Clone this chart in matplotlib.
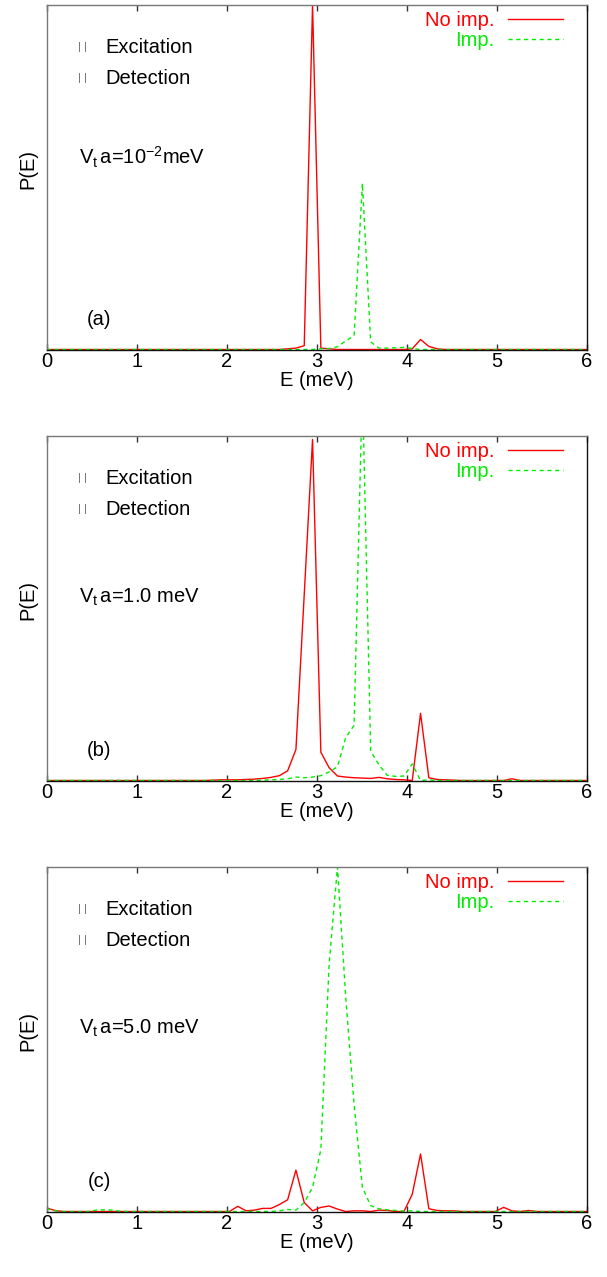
import numpy as np
import matplotlib
matplotlib.use("Agg")
import matplotlib.pyplot as plt

plt.rcParams['font.family'] = ['Liberation Sans', 'DejaVu Sans']
plt.rcParams['mathtext.fontset'] = 'custom'
plt.rcParams['mathtext.rm'] = 'Liberation Sans'
plt.rcParams['mathtext.it'] = 'Liberation Sans:italic'
plt.rcParams['mathtext.default'] = 'regular'

# energy sampling grid (meV)
E = np.linspace(0.0, 6.0, 66)

def series(pairs):
    y = np.zeros(len(E))
    for k, v in pairs.items():
        y[k] = v
    return y

# ---- panel (a): V_t a = 1e-2 meV
no_imp_a = series({29: 0.002, 30: 0.004, 31: 0.011, 32: 1.0, 33: 0.004, 34: 0.002,
                   44: 0.002, 45: 0.029, 46: 0.009, 47: 0.002})
imp_a = series({33: 0.002, 34: 0.003, 35: 0.008, 36: 0.025, 37: 0.04, 38: 0.482,
                39: 0.022, 40: 0.004, 41: 0.004, 42: 0.005, 43: 0.006, 44: 0.003})

# ---- panel (b): V_t a = 1.0 meV
no_imp_b = series({20: 0.001, 21: 0.002, 22: 0.002, 23: 0.002, 24: 0.003, 25: 0.004,
                   26: 0.006, 27: 0.009, 28: 0.014, 29: 0.028, 30: 0.09, 31: 0.54,
                   32: 0.99, 33: 0.082, 34: 0.037, 35: 0.013, 36: 0.01, 37: 0.008,
                   38: 0.007, 39: 0.006, 40: 0.009, 41: 0.005, 42: 0.003, 43: 0.002,
                   44: 0.0, 45: 0.195, 46: 0.008, 47: 0.003, 48: 0.002, 49: 0.001,
                   56: 0.005})
imp_b = series({26: 0.001, 27: 0.002, 28: 0.003, 29: 0.005, 30: 0.01, 31: 0.008,
                32: 0.01, 33: 0.014, 34: 0.025, 35: 0.04, 36: 0.125, 37: 0.16,
                38: 1.15, 39: 0.085, 40: 0.045, 41: 0.015, 42: 0.012, 43: 0.013,
                44: 0.048, 45: 0.0, 46: 0.002})

# ---- panel (c): V_t a = 5.0 meV
no_imp_c = series({0: 0.01, 1: 0.003, 23: 0.015, 24: 0.002, 25: 0.004, 26: 0.009,
                   27: 0.009, 28: 0.02, 29: 0.034, 30: 0.12, 31: 0.026, 32: 0.002,
                   33: 0.012, 34: 0.016, 35: 0.007, 37: 0.002, 38: 0.002, 40: 0.004,
                   41: 0.003, 44: 0.05, 45: 0.167, 46: 0.008, 47: 0.003, 48: 0.002,
                   49: 0.002, 55: 0.012, 56: 0.002, 58: 0.003})
imp_c = series({0: 0.008, 1: 0.002, 6: 0.004, 7: 0.005, 8: 0.004, 28: 0.002, 29: 0.006,
                30: 0.004, 31: 0.026, 32: 0.07, 33: 0.18, 34: 0.72, 35: 1.0,
                36: 0.62, 37: 0.31, 38: 0.07, 39: 0.017, 40: 0.008, 41: 0.005,
                42: 0.003, 43: 0.001, 44: 0.002})

panels = [
    (no_imp_a, imp_a, r"V$_\mathrm{t}\,$a=10$^{-2}$meV", "(a)", 0.536),
    (no_imp_b, imp_b, r"V$_\mathrm{t}\,$a=1.0 meV", "(b)", 0.515),
    (no_imp_c, imp_c, r"V$_\mathrm{t}\,$a=5.0 meV", "(c)", 0.515),
]
xticks = [0, 1, 2, 3, 4, 5, 6]

W, H = 607, 1277
fig = plt.figure(figsize=(W / 100, H / 100), dpi=100)
FS = 14.5
left_px, width_px, height_px = 46.7, 540.0, 344.5
tops_px = [5.0, 436.0, 867.0]

for (red, green, vlabel, tag, vy), top in zip(panels, tops_px):
    ax = fig.add_axes([left_px / W, 1 - (top + height_px) / H, width_px / W, height_px / H])
    ax.plot(E, red, color='#ff0000', lw=1.0, label='No imp.', clip_on=True)
    ax.plot(E, green, color='#00ee00', lw=1.0, dashes=(3, 2.6), label='Imp.', clip_on=True)
    ax.set_xlim(0, 6)
    ax.set_ylim(0, 1.0)
    ax.set_xticks(xticks)
    ax.set_xticklabels([str(t) for t in xticks], fontsize=FS)
    ax.set_yticks([])
    ax.tick_params(axis='x', direction='in', top=True, length=4, width=1, pad=2, color='#333333')
    ax.set_xlabel('E (meV)', fontsize=FS, labelpad=0)
    ax.set_ylabel('P(E)', fontsize=FS)
    ax.yaxis.set_label_coords(-0.017, 0.525)
    for s in ['left', 'top']:
        ax.spines[s].set_color('#777777')
    for s in ['right', 'bottom']:
        ax.spines[s].set_color('#111111')
    for s in ax.spines.values():
        s.set_linewidth(1.0)

    leg = ax.legend(loc='upper right', bbox_to_anchor=(0.956, 0.982), frameon=False,
                    fontsize=FS, markerfirst=False, labelcolor='linecolor',
                    handlelength=2.75, handletextpad=0.65, labelspacing=0.05,
                    borderpad=0.0, borderaxespad=0.0, alignment='right')

    for ty, txt in [(0.878, 'Excitation'), (0.788, 'Detection')]:
        ax.text(0.066, ty, '| |', transform=ax.transAxes, fontsize=8, color='#666666',
                ha='center', va='center')
        ax.text(0.108, ty, txt, transform=ax.transAxes, fontsize=FS, ha='left', va='center')
    ax.text(0.060, vy, vlabel, transform=ax.transAxes, fontsize=FS, ha='left', va='baseline')
    ax.text(0.097, 0.087, tag, transform=ax.transAxes, fontsize=FS, ha='center', va='center')

fig.savefig('out.png', dpi=100)
